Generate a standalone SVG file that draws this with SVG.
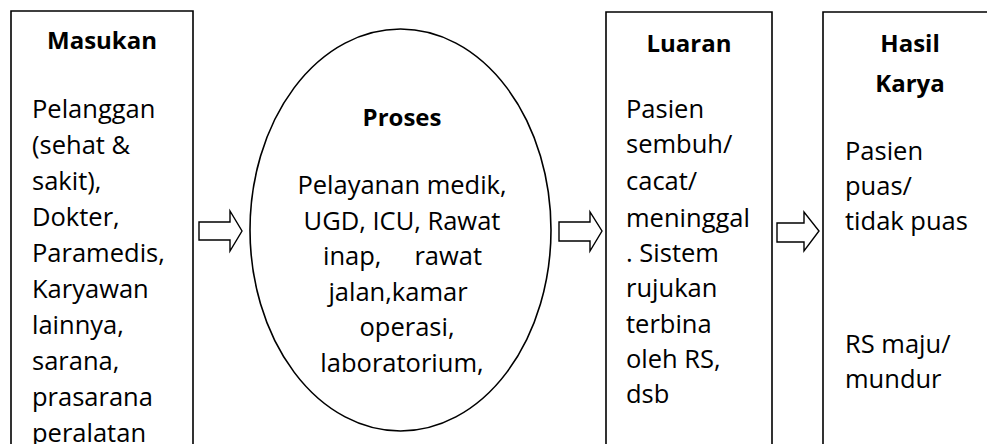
<svg xmlns="http://www.w3.org/2000/svg" width="987" height="444" viewBox="0 0 987 444">
<style>
.box{fill:#fff;stroke:#000;stroke-width:1.6}
.arr{fill:#fff;stroke:#000;stroke-width:1.4;stroke-linejoin:miter}
.t{font-family:"Open Sans","Noto Sans","Liberation Sans",sans-serif;font-size:25.5px;fill:#000}
.b{font-weight:bold;text-anchor:middle;font-size:24px}
.c{text-anchor:middle}
</style>
<rect width="987" height="444" fill="#fff"/>
<g id="masukan">
<path class="box" d="M11,446 V11 H193 V446"/>
<text class="t b" x="102" y="49">Masukan</text>
<text class="t" x="32">
<tspan x="32" y="118">Pelanggan</tspan>
<tspan x="32" y="154">(sehat &amp;</tspan>
<tspan x="32" y="190">sakit),</tspan>
<tspan x="32" y="226">Dokter,</tspan>
<tspan x="32" y="262">Paramedis,</tspan>
<tspan x="32" y="298">Karyawan</tspan>
<tspan x="32" y="334">lainnya,</tspan>
<tspan x="32" y="370">sarana,</tspan>
<tspan x="32" y="406">prasarana</tspan>
<tspan x="32" y="442">peralatan</tspan>
</text>
</g>
<g id="proses">
<ellipse class="box" cx="400.5" cy="230" rx="150.5" ry="201"/>
<text class="t b" x="402" y="126">Proses</text>
<text class="t c" x="402" y="194">Pelayanan medik,</text>
<text class="t c" x="402" y="230">UGD, ICU, Rawat</text>
<text class="t"><tspan x="323" y="265">inap,</tspan><tspan x="482" y="265" text-anchor="end">rawat</tspan></text>
<text class="t c" x="398" y="301">jalan,kamar</text>
<text class="t c" x="407" y="336">operasi,</text>
<text class="t c" x="402" y="372">laboratorium,</text>
</g>
<g id="luaran">
<path class="box" d="M606,446 V12 H772 V446"/>
<text class="t b" x="689" y="52">Luaran</text>
<text class="t">
<tspan x="626" y="118">Pasien</tspan>
<tspan x="626" y="153">sembuh/</tspan>
<tspan x="626" y="190">cacat/</tspan>
<tspan x="626" y="227">meninggal</tspan>
<tspan x="626" y="262">. Sistem</tspan>
<tspan x="626" y="297">rujukan</tspan>
<tspan x="626" y="333">terbina</tspan>
<tspan x="626" y="368">oleh RS,</tspan>
<tspan x="626" y="403">dsb</tspan>
</text>
</g>
<g id="hasil-karya">
<path class="box" d="M823,446 V12 H990"/>
<text class="t b" x="910" y="52">Hasil</text>
<text class="t b" x="910" y="92">Karya</text>
<text class="t">
<tspan x="845" y="160">Pasien</tspan>
<tspan x="845" y="195">puas/</tspan>
<tspan x="845" y="230">tidak puas</tspan>
<tspan x="845" y="353">RS maju/</tspan>
<tspan x="845" y="388">mundur</tspan>
</text>
</g>
<g id="connectors">
<polygon class="arr" points="199,222 230,222 230,211 242,231 230,251 230,240 199,240"/>
<polygon class="arr" points="559,222 590,222 590,212 602,231 590,251 590,241 559,241"/>
<polygon class="arr" points="777,223 804,223 804,212 819,231 804,251 804,242 777,242"/>
</g>
</svg>
